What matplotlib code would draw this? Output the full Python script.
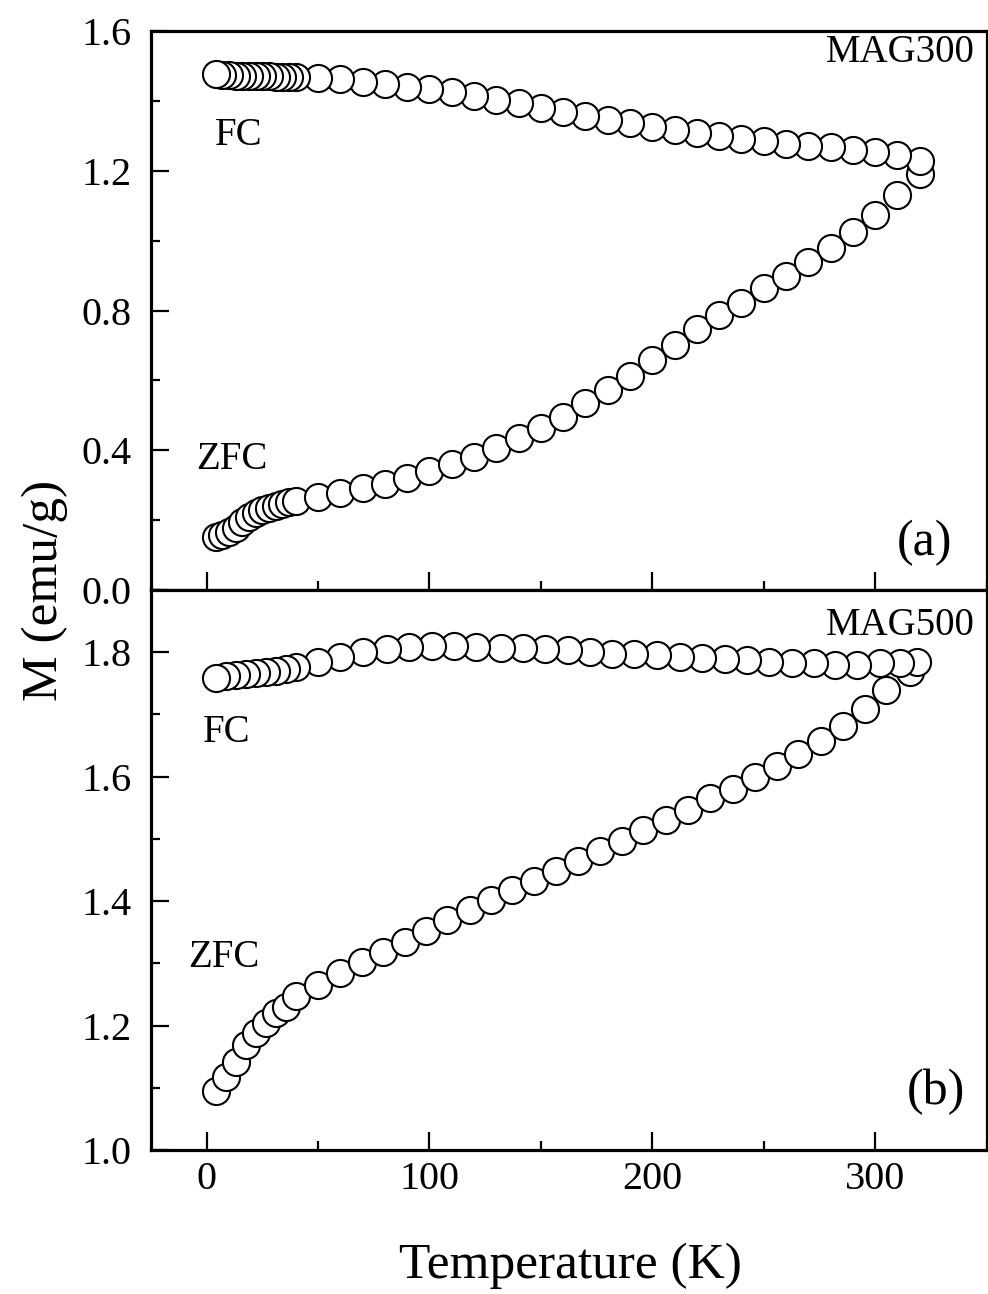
import matplotlib
matplotlib.use("Agg")
import matplotlib.pyplot as plt
from matplotlib.ticker import MultipleLocator

# ---------------- data ----------------
# MAG300 (panel a)
T300_low = [4, 7, 10, 13, 16, 19, 22, 25, 28, 31, 34, 37, 40]
T300_high = [50, 60, 70, 80, 90, 100, 110, 120, 130, 140, 150, 160, 170, 180,
             190, 200, 210, 220, 230, 240, 250, 260, 270, 280, 290, 300, 310, 320]
T300 = T300_low + T300_high

zfc300 = [0.153, 0.158, 0.166, 0.178, 0.195, 0.210, 0.221, 0.229, 0.235, 0.241, 0.246, 0.251, 0.256,
          0.265, 0.279, 0.291, 0.305, 0.321, 0.341, 0.360, 0.382, 0.407, 0.434, 0.463, 0.496,
          0.534, 0.572, 0.612, 0.658, 0.701, 0.747, 0.787, 0.823, 0.866, 0.898, 0.940, 0.979,
          1.026, 1.073, 1.131, 1.190]
fc300 = [1.476, 1.474, 1.473, 1.472, 1.472, 1.471, 1.471, 1.470, 1.470, 1.469, 1.469, 1.468, 1.468,
         1.467, 1.462, 1.455, 1.448, 1.441, 1.434, 1.426, 1.414, 1.404, 1.393, 1.380, 1.368,
         1.357, 1.346, 1.336, 1.325, 1.316, 1.307, 1.299, 1.292, 1.285, 1.277, 1.271, 1.267,
         1.259, 1.253, 1.245, 1.229]

# MAG500 (panel b)
T500_zfc = [4, 8.5, 13, 17.5, 22, 26.5, 31, 35.5, 40, 50, 60, 69.5, 79, 89, 98.5, 108, 118,
            127.5, 137, 147, 157, 166.5, 176.5, 186.5, 196, 206, 216, 226, 236, 246, 256,
            265.5, 275.5, 285.5, 295.5, 305, 315.5]
zfc500 = [1.095, 1.117, 1.141, 1.168, 1.188, 1.204, 1.220, 1.230, 1.248, 1.265, 1.284, 1.302,
          1.318, 1.335, 1.352, 1.369, 1.386, 1.402, 1.418, 1.433, 1.449, 1.464, 1.481, 1.496,
          1.514, 1.531, 1.546, 1.565, 1.581, 1.599, 1.618, 1.637, 1.658, 1.682, 1.709, 1.739,
          1.768]
T500_fc = [4, 8.5, 13, 17.5, 22, 26.5, 31, 35.5, 40, 50, 60, 70, 81, 91, 101, 111, 121, 132,
           142, 152, 162, 172, 182, 192, 202, 212.5, 222.5, 232.5, 242.5, 252.5, 262.5, 272.5,
           282, 292, 302, 311, 319]
fc500 = [1.759, 1.762, 1.764, 1.765, 1.766, 1.768, 1.770, 1.773, 1.777, 1.785, 1.793, 1.800,
         1.805, 1.808, 1.810, 1.810, 1.808, 1.807, 1.807, 1.806, 1.803, 1.800, 1.798, 1.797,
         1.795, 1.793, 1.791, 1.789, 1.787, 1.785, 1.783, 1.782, 1.780, 1.780, 1.782, 1.783,
         1.785]

x_ticks = [0, 100, 200, 300]

# ---------------- style ----------------
plt.rcParams['font.family'] = ['Liberation Serif', 'DejaVu Serif']

fig = plt.figure(figsize=(9.88, 12.94), dpi=100)
L, R = 0.1528, 0.9985
B, M, T = 0.1113, 0.5440, 0.9760
ax1 = fig.add_axes([L, M, R - L, T - M])
ax2 = fig.add_axes([L, B, R - L, M - B], sharex=ax1)

mk = dict(linestyle='none', marker='o', markersize=19.5, markerfacecolor='white',
          markeredgecolor='black', markeredgewidth=1.5)

ax1.plot(T300, zfc300, **mk)
ax1.plot(T300[::-1], fc300[::-1], **mk)
ax2.plot(T500_zfc, zfc500, **mk)
ax2.plot(T500_fc[::-1], fc500[::-1], **mk)

ax1.set_xlim(-25, 350)
ax1.set_ylim(0.0, 1.6)
ax2.set_ylim(1.0, 1.9)

ax1.yaxis.set_major_locator(MultipleLocator(0.4))
ax1.yaxis.set_minor_locator(MultipleLocator(0.2))
ax2.yaxis.set_major_locator(MultipleLocator(0.2))
ax2.yaxis.set_minor_locator(MultipleLocator(0.1))
ax2.set_xticks(x_ticks)
ax2.xaxis.set_minor_locator(MultipleLocator(50))

for ax in (ax1, ax2):
    for s in ax.spines.values():
        s.set_linewidth(2.3)
    ax.tick_params(which='both', direction='in', top=False, right=False,
                   width=1.6, labelsize=29)
    ax.tick_params(which='major', length=13)
    ax.tick_params(which='minor', length=6.5)
    ax.tick_params(axis='y', pad=14)
    ax.tick_params(axis='x', pad=8)
    ax.yaxis.set_major_formatter(plt.FuncFormatter(lambda v, p: f"{v:.1f}"))

ax1.tick_params(axis='x', labelbottom=False)

# annotations
ax1.text(0.986, 0.961, 'MAG300', transform=ax1.transAxes, ha='right', va='center', fontsize=28)
ax1.text(0.077, 0.814, 'FC', transform=ax1.transAxes, ha='left', va='center', fontsize=28)
ax1.text(0.054, 0.233, 'ZFC', transform=ax1.transAxes, ha='left', va='center', fontsize=28)
ax1.text(0.926, 0.084, '(a)', transform=ax1.transAxes, ha='center', va='center', fontsize=36)

ax2.text(0.986, 0.9375, 'MAG500', transform=ax2.transAxes, ha='right', va='center', fontsize=28)
ax2.text(0.062, 0.746, 'FC', transform=ax2.transAxes, ha='left', va='center', fontsize=28)
ax2.text(0.044, 0.343, 'ZFC', transform=ax2.transAxes, ha='left', va='center', fontsize=28)
ax2.text(0.940, 0.104, '(b)', transform=ax2.transAxes, ha='center', va='center', fontsize=36)

fig.text(0.045, 0.544, 'M (emu/g)', rotation=90, ha='center', va='center', fontsize=37)
fig.text(0.577, 0.022, 'Temperature (K)', ha='center', va='center', fontsize=37)

fig.savefig('out.png', dpi=100)
